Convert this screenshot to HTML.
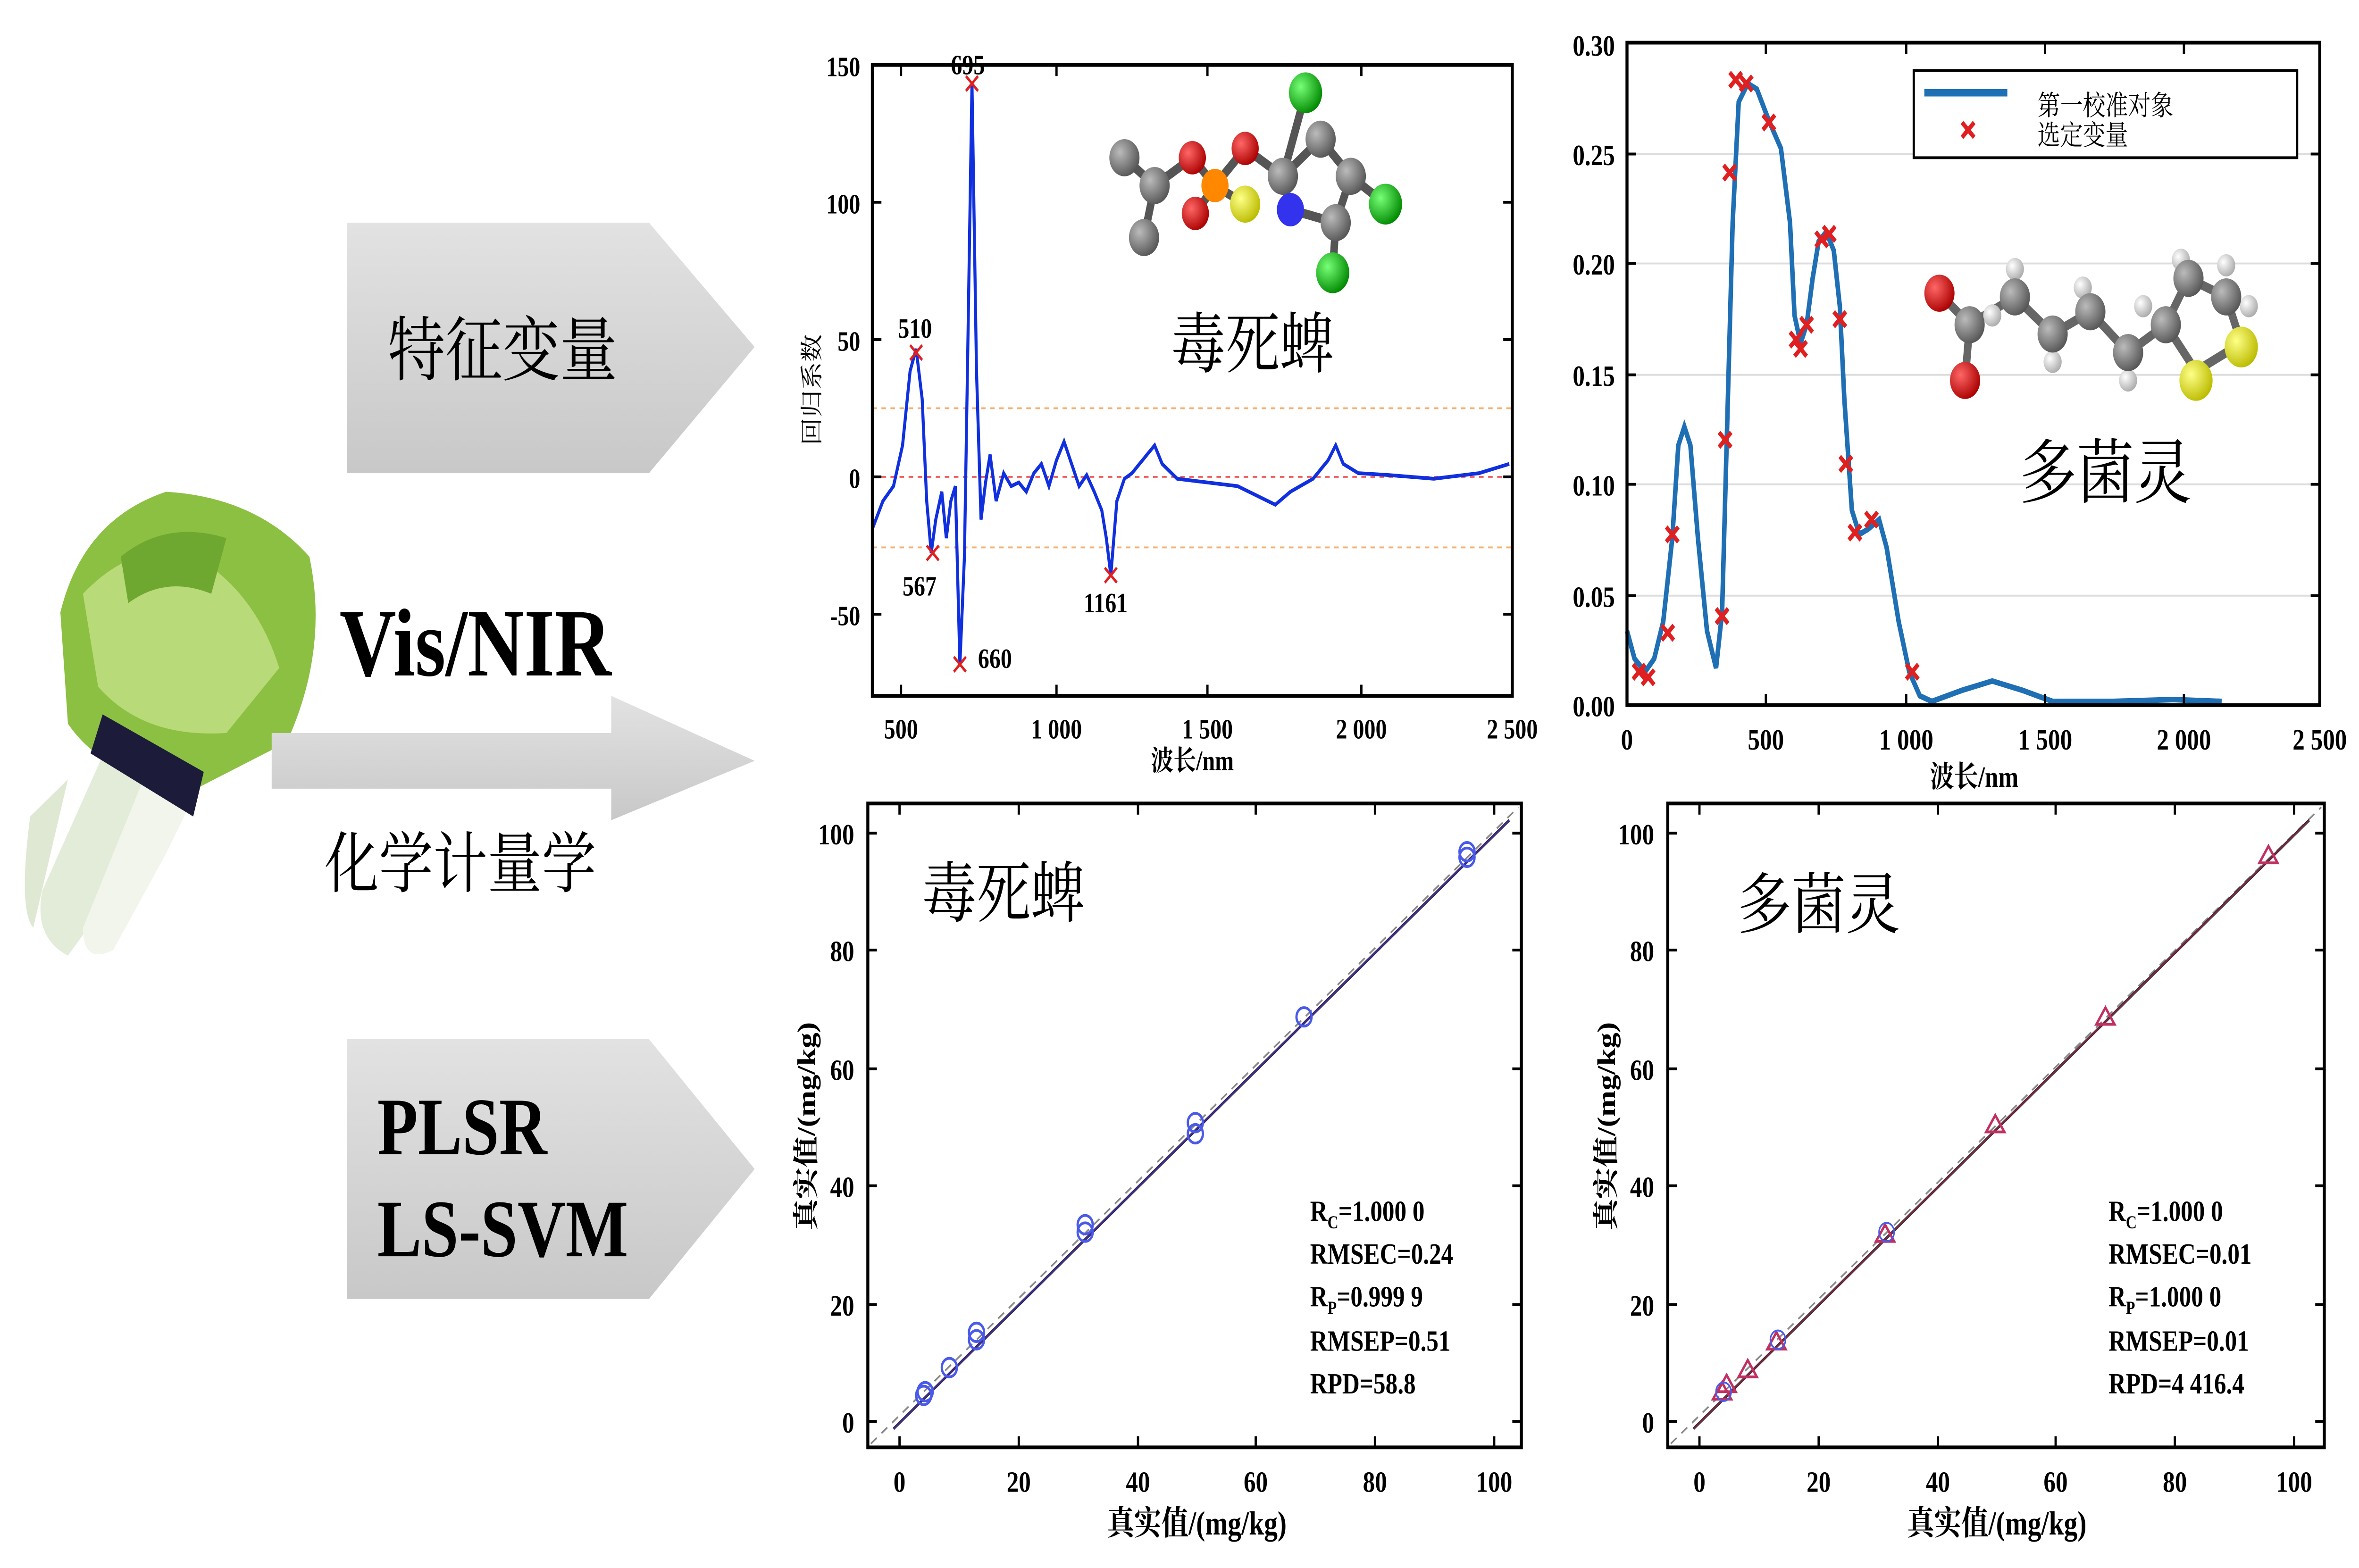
<!DOCTYPE html>
<html><head><meta charset="utf-8"><style>html,body{margin:0;padding:0;background:#fff;overflow:hidden;width:100%;height:100%}svg{display:block;width:100vw;height:100vh}
text{font-family:"Liberation Serif","Noto Serif CJK SC","Noto Sans CJK SC",serif}</style></head><body>
<svg viewBox="0 0 1563 845" preserveAspectRatio="none" xmlns="http://www.w3.org/2000/svg">
<defs>
<linearGradient id="g1" x1="0" y1="0" x2="0" y2="1"><stop offset="0" stop-color="#e2e2e2"/><stop offset="1" stop-color="#c8c8c8"/></linearGradient>
<radialGradient id="gr" cx="0.35" cy="0.35" r="0.7"><stop offset="0" stop-color="#bbb"/><stop offset="1" stop-color="#555"/></radialGradient>
<radialGradient id="rd" cx="0.35" cy="0.35" r="0.7"><stop offset="0" stop-color="#f66"/><stop offset="1" stop-color="#a00"/></radialGradient>
<radialGradient id="gn" cx="0.35" cy="0.35" r="0.7"><stop offset="0" stop-color="#7f7"/><stop offset="1" stop-color="#080"/></radialGradient>
<radialGradient id="yl" cx="0.35" cy="0.35" r="0.7"><stop offset="0" stop-color="#ff8"/><stop offset="1" stop-color="#bb0"/></radialGradient>
<radialGradient id="wh" cx="0.35" cy="0.35" r="0.7"><stop offset="0" stop-color="#fff"/><stop offset="1" stop-color="#aaa"/></radialGradient>
</defs>
<rect width="1563" height="845" fill="#fff"/>
<!-- vegetable -->
<g>
<path d="M20 440 Q12 490 22 500 L45 420Z" fill="#dfe8d2"/>
<path d="M72 400 L28 480 Q22 505 45 515 L85 470 L120 425Z" fill="#e3ecd8"/>
<path d="M100 410 L55 500 Q55 520 75 512 L110 460 L128 430Z" fill="#f2f5ec"/>
<path d="M40 330 Q55 280 110 265 Q170 268 205 300 Q218 350 190 400 L130 425 Q70 420 45 390Z" fill="#8cc043"/>
<path d="M55 320 Q90 290 130 300 Q170 320 185 360 L150 395 Q95 398 65 370Z" fill="#b8da78"/>
<path d="M80 300 Q110 280 150 290 L140 320 Q110 310 85 325Z" fill="#6fa830"/>
<path d="M68 385 L135 416 L128 440 L60 406Z" fill="#1c1c3a"/>
</g>
<!-- arrows -->
<path d="M230 120 L430 120 L500 187 L430 255 L230 255Z" fill="url(#g1)"/>
<text x="333" y="202" font-size="38" text-anchor="middle" font-family="Noto Serif CJK SC,serif">特征变量</text>
<text x="315" y="364" font-size="52" font-weight="bold" text-anchor="middle">Vis/NIR</text>
<path d="M180 395 L405 395 L405 375 L500 410 L405 442 L405 425 L180 425Z" fill="url(#g1)"/>
<text x="305" y="478" font-size="36" text-anchor="middle" font-family="Noto Serif CJK SC,serif">化学计量学</text>
<path d="M230 560 L430 560 L500 630 L430 700 L230 700Z" fill="url(#g1)"/>
<text x="250" y="622" font-size="44" font-weight="bold">PLSR</text>
<text x="250" y="677" font-size="44" font-weight="bold">LS-SVM</text>

<!-- chart 1 -->
<g font-size="15" font-weight="bold">
<line x1="578" y1="220" x2="1002" y2="220" stroke="#f5b070" stroke-dasharray="3,3"/>
<line x1="578" y1="295" x2="1002" y2="295" stroke="#f5b070" stroke-dasharray="3,3"/>
<line x1="578" y1="257" x2="1002" y2="257" stroke="#f06060" stroke-dasharray="3,3"/>
<polyline fill="none" stroke="#1030e0" stroke-width="2" points="578,285 585,270 592,262 598,240 603,200 607,188 611,215 614,270 617,298 620,280 624,265 627,290 630,270 633,262 636,358 639,300 641,200 644,45 647,200 650,280 653,260 656,245 660,270 665,255 670,262 675,260 680,265 685,255 690,250 695,262 700,248 705,238 710,250 715,262 720,256 725,265 730,275 733,290 736,310 740,270 745,258 750,255 760,245 765,240 770,250 780,258 800,260 820,262 835,268 845,272 855,265 870,258 880,248 885,240 890,250 900,255 920,256 950,258 980,255 1000,250"/>
<g stroke="#e02020" stroke-width="1.5">
<path d="M603 186l8 8M611 186l-8 8M614 294l8 8M622 294l-8 8M632 354l8 8M640 354l-8 8M640 41l8 8M648 41l-8 8M732 306l8 8M740 306l-8 8"/></g>
<text x="595" y="182">510</text><text x="598" y="321">567</text><text x="648" y="360">660</text><text x="630" y="40">695</text><text x="718" y="330">1161</text>
<rect x="578" y="35" width="424" height="340" fill="none" stroke="#000" stroke-width="2"/>
<g stroke="#000" stroke-width="1.5">
<path d="M578 35h6M578 109h6M578 183h6M578 257h6M578 331h6M1002 35h-6M1002 109h-6M1002 183h-6M1002 257h-6M1002 331h-6M597 375v-6M700 375v-6M800 375v-6M902 375v-6M597 35v6M700 35v6M800 35v6M902 35v6"/></g>
<g text-anchor="end"><text x="570" y="41">150</text><text x="570" y="115">100</text><text x="570" y="189">50</text><text x="570" y="263">0</text><text x="570" y="337">-50</text></g>
<g text-anchor="middle"><text x="597" y="398">500</text><text x="700" y="398">1 000</text><text x="800" y="398">1 500</text><text x="902" y="398">2 000</text><text x="1002" y="398">2 500</text>
<text x="790" y="415">波长/nm</text></g>
<text transform="translate(543,210) rotate(-90)" font-size="15" font-weight="normal" text-anchor="middle">回归系数</text>
</g>
<text x="830" y="198" font-size="36" text-anchor="middle" font-family="Noto Serif CJK SC,serif">毒死蜱</text>
<g stroke="#555" stroke-width="5" fill="none"><path d="M745 85L765 100L758 128M765 100L790 85L805 100L792 115M805 100L825 110M805 100L825 80L850 95L865 50M850 95L855 113L885 120L895 95L875 75L850 95M895 95L918 110M885 120L883 147"/></g>
<circle cx="745" cy="85" r="10" fill="url(#gr)"/><circle cx="765" cy="100" r="10" fill="url(#gr)"/><circle cx="758" cy="128" r="10" fill="url(#gr)"/>
<circle cx="790" cy="85" r="9" fill="url(#rd)"/><circle cx="792" cy="115" r="9" fill="url(#rd)"/><circle cx="805" cy="100" r="9" fill="#f80"/>
<circle cx="825" cy="110" r="10" fill="url(#yl)"/><circle cx="825" cy="80" r="9" fill="url(#rd)"/>
<circle cx="850" cy="95" r="10" fill="url(#gr)"/><circle cx="855" cy="113" r="9" fill="#33e"/><circle cx="865" cy="50" r="11" fill="url(#gn)"/>
<circle cx="875" cy="75" r="10" fill="url(#gr)"/><circle cx="895" cy="95" r="10" fill="url(#gr)"/><circle cx="918" cy="110" r="11" fill="url(#gn)"/>
<circle cx="885" cy="120" r="10" fill="url(#gr)"/><circle cx="883" cy="147" r="11" fill="url(#gn)"/>

<!-- chart 2 -->
<g font-size="16" font-weight="bold">
<g stroke="#ddd" stroke-width="1"><path d="M1078 83H1537M1078 142H1537M1078 202H1537M1078 261H1537M1078 321H1537"/></g>
<polyline fill="none" stroke="#1f6fb4" stroke-width="3" points="1078,340 1083,355 1090,362 1096,355 1102,335 1108,290 1112,240 1116,230 1120,240 1125,290 1131,340 1137,360 1141,330 1144,240 1148,120 1152,55 1158,45 1164,48 1172,65 1180,80 1186,120 1189,170 1193,185 1197,175 1201,150 1205,130 1210,125 1215,135 1219,165 1222,215 1227,275 1232,288 1238,285 1245,280 1250,295 1258,335 1265,362 1272,375 1280,378 1300,372 1320,367 1340,372 1360,378 1400,378 1440,377 1472,378"/>
<g stroke="#e02020" stroke-width="2.5" fill="none">
<path d="M1082 358l8 8M1090 358l-8 8M1088 361l8 8M1096 361l-8 8M1101 337l8 8M1109 337l-8 8M1104 284l8 8M1112 284l-8 8M1137 328l8 8M1145 328l-8 8M1139 233l8 8M1147 233l-8 8M1142 89l8 8M1150 89l-8 8M1146 39l8 8M1154 39l-8 8M1153 41l8 8M1161 41l-8 8M1168 62l8 8M1176 62l-8 8M1186 179l8 8M1194 179l-8 8M1189 184l8 8M1197 184l-8 8M1193 171l8 8M1201 171l-8 8M1203 125l8 8M1211 125l-8 8M1208 122l8 8M1216 122l-8 8M1215 168l8 8M1223 168l-8 8M1219 246l8 8M1227 246l-8 8M1225 283l8 8M1233 283l-8 8M1236 276l8 8M1244 276l-8 8M1263 358l8 8M1271 358l-8 8"/></g>
<rect x="1078" y="23" width="459" height="357" fill="none" stroke="#000" stroke-width="2"/>
<g stroke="#000" stroke-width="1.5"><path d="M1078 83h6M1078 142h6M1078 202h6M1078 261h6M1078 321h6M1537 83h-6M1537 142h-6M1537 202h-6M1537 261h-6M1537 321h-6M1170 380v-6M1263 380v-6M1355 380v-6M1447 380v-6M1170 23v6M1263 23v6M1355 23v6M1447 23v6"/></g>
<g text-anchor="end"><text x="1070" y="30">0.30</text><text x="1070" y="89">0.25</text><text x="1070" y="148">0.20</text><text x="1070" y="208">0.15</text><text x="1070" y="267">0.10</text><text x="1070" y="327">0.05</text><text x="1070" y="386">0.00</text></g>
<g text-anchor="middle"><text x="1078" y="404">0</text><text x="1170" y="404">500</text><text x="1263" y="404">1 000</text><text x="1355" y="404">1 500</text><text x="1447" y="404">2 000</text><text x="1537" y="404">2 500</text><text x="1308" y="424">波长/nm</text></g>
<rect x="1268" y="38" width="254" height="47" fill="#fff" stroke="#000" stroke-width="1.5"/>
<line x1="1275" y1="50" x2="1330" y2="50" stroke="#1f6fb4" stroke-width="4"/>
<path d="M1300 66l8 8M1308 66l-8 8" stroke="#e02020" stroke-width="2.5"/>
<text x="1350" y="62" font-size="15" font-weight="normal" font-family="Noto Serif CJK SC,serif">第一校准对象</text>
<text x="1350" y="78" font-size="15" font-weight="normal" font-family="Noto Serif CJK SC,serif">选定变量</text>
</g>
<text x="1395" y="268" font-size="38" text-anchor="middle" font-family="Noto Serif CJK SC,serif">多菌灵</text>
<g stroke="#666" stroke-width="5" fill="none"><path d="M1285 158L1305 175L1302 205M1305 175L1335 160L1360 180L1385 168L1410 190L1435 175L1450 150L1475 160L1485 185L1455 200L1435 175"/></g>
<g fill="url(#wh)"><circle cx="1335" cy="145" r="6"/><circle cx="1360" cy="195" r="6"/><circle cx="1380" cy="155" r="6"/><circle cx="1410" cy="205" r="6"/><circle cx="1420" cy="165" r="6"/><circle cx="1445" cy="140" r="6"/><circle cx="1475" cy="143" r="6"/><circle cx="1490" cy="165" r="6"/><circle cx="1320" cy="170" r="6"/></g>
<circle cx="1285" cy="158" r="10" fill="url(#rd)"/><circle cx="1302" cy="205" r="10" fill="url(#rd)"/>
<g fill="url(#gr)"><circle cx="1305" cy="175" r="10"/><circle cx="1335" cy="160" r="10"/><circle cx="1360" cy="180" r="10"/><circle cx="1385" cy="168" r="10"/><circle cx="1410" cy="190" r="10"/><circle cx="1435" cy="175" r="10"/><circle cx="1450" cy="150" r="10"/><circle cx="1475" cy="160" r="10"/></g>
<circle cx="1485" cy="187" r="11" fill="url(#yl)"/><circle cx="1455" cy="205" r="11" fill="url(#yl)"/>

<!-- chart 3 -->
<g font-size="16" font-weight="bold">
<line x1="577" y1="778" x2="1006" y2="435" stroke="#888" stroke-dasharray="5,4"/>
<line x1="592" y1="770" x2="1000" y2="442" stroke="#223" stroke-width="1.5"/>
<line x1="592" y1="770" x2="1000" y2="442" stroke="#5030b0" stroke-width="1" opacity="0.7"/>
<g fill="none" stroke="#4a5ae8" stroke-width="1.5">
<circle cx="613" cy="750" r="5"/><circle cx="612" cy="752" r="5"/><circle cx="629" cy="737" r="5"/><circle cx="647" cy="722" r="5"/><circle cx="647" cy="718" r="5"/>
<circle cx="719" cy="664" r="5"/><circle cx="719" cy="660" r="5"/><circle cx="792" cy="605" r="5"/><circle cx="792" cy="611" r="5"/><circle cx="864" cy="548" r="5"/><circle cx="972" cy="462" r="5"/><circle cx="972" cy="459" r="5"/></g>
<rect x="575" y="433" width="433" height="347" fill="none" stroke="#000" stroke-width="2"/>
<g stroke="#000" stroke-width="1.5"><path d="M575 449h6M575 512h6M575 576h6M575 639h6M575 703h6M575 766h6M1008 449h-6M1008 512h-6M1008 576h-6M1008 639h-6M1008 703h-6M1008 766h-6M596 780v-6M675 780v-6M754 780v-6M832 780v-6M911 780v-6M990 780v-6M596 433v6M675 433v6M754 433v6M832 433v6M911 433v6M990 433v6"/></g>
<g text-anchor="end"><text x="566" y="455">100</text><text x="566" y="518">80</text><text x="566" y="582">60</text><text x="566" y="645">40</text><text x="566" y="709">20</text><text x="566" y="772">0</text></g>
<g text-anchor="middle"><text x="596" y="804">0</text><text x="675" y="804">20</text><text x="754" y="804">40</text><text x="832" y="804">60</text><text x="911" y="804">80</text><text x="990" y="804">100</text><text x="793" y="827" font-size="18">真实值/(mg/kg)</text></g>
<text transform="translate(540,607) rotate(-90)" text-anchor="middle" font-size="17">真实值/(mg/kg)</text>
<g font-size="16"><text x="868" y="658">R<tspan font-size="10" dy="4">C</tspan><tspan dy="-4">=1.000 0</tspan></text><text x="868" y="681">RMSEC=0.24</text><text x="868" y="704">R<tspan font-size="10" dy="4">P</tspan><tspan dy="-4">=0.999 9</tspan></text><text x="868" y="728">RMSEP=0.51</text><text x="868" y="751">RPD=58.8</text></g>
</g>
<text x="665" y="494" font-size="36" text-anchor="middle" font-family="Noto Serif CJK SC,serif">毒死蜱</text>

<!-- chart 4 -->
<g font-size="16" font-weight="bold">
<line x1="1107" y1="778" x2="1538" y2="435" stroke="#888" stroke-dasharray="5,4"/>
<line x1="1122" y1="770" x2="1530" y2="442" stroke="#223" stroke-width="1.5"/>
<line x1="1122" y1="770" x2="1530" y2="442" stroke="#b03040" stroke-width="1" opacity="0.6"/>
<g fill="none" stroke="#c03060" stroke-width="1.5">
<path d="M1141 745l6 9h-12z M1144 741l6 9h-12z M1158 733l6 9h-12z M1177 718l6 9h-12z M1249 660l6 9h-12z M1322 601l6 9h-12z M1395 543l6 9h-12z M1503 456l6 9h-12z"/></g>
<g fill="none" stroke="#4a5ae8" stroke-width="1"><circle cx="1142" cy="750" r="5"/><circle cx="1178" cy="722" r="5"/><circle cx="1250" cy="664" r="5"/></g>
<rect x="1105" y="433" width="435" height="347" fill="none" stroke="#000" stroke-width="2"/>
<g stroke="#000" stroke-width="1.5"><path d="M1105 449h6M1105 512h6M1105 576h6M1105 639h6M1105 703h6M1105 766h6M1540 449h-6M1540 512h-6M1540 576h-6M1540 639h-6M1540 703h-6M1540 766h-6M1126 780v-6M1205 780v-6M1284 780v-6M1362 780v-6M1441 780v-6M1520 780v-6M1126 433v6M1205 433v6M1284 433v6M1362 433v6M1441 433v6M1520 433v6"/></g>
<g text-anchor="end"><text x="1096" y="455">100</text><text x="1096" y="518">80</text><text x="1096" y="582">60</text><text x="1096" y="645">40</text><text x="1096" y="709">20</text><text x="1096" y="772">0</text></g>
<g text-anchor="middle"><text x="1126" y="804">0</text><text x="1205" y="804">20</text><text x="1284" y="804">40</text><text x="1362" y="804">60</text><text x="1441" y="804">80</text><text x="1520" y="804">100</text><text x="1323" y="827" font-size="18">真实值/(mg/kg)</text></g>
<text transform="translate(1070,607) rotate(-90)" text-anchor="middle" font-size="17">真实值/(mg/kg)</text>
<g font-size="16"><text x="1397" y="658">R<tspan font-size="10" dy="4">C</tspan><tspan dy="-4">=1.000 0</tspan></text><text x="1397" y="681">RMSEC=0.01</text><text x="1397" y="704">R<tspan font-size="10" dy="4">P</tspan><tspan dy="-4">=1.000 0</tspan></text><text x="1397" y="728">RMSEP=0.01</text><text x="1397" y="751">RPD=4 416.4</text></g>
</g>
<text x="1205" y="500" font-size="36" text-anchor="middle" font-family="Noto Serif CJK SC,serif">多菌灵</text>
</svg>
</body></html>
